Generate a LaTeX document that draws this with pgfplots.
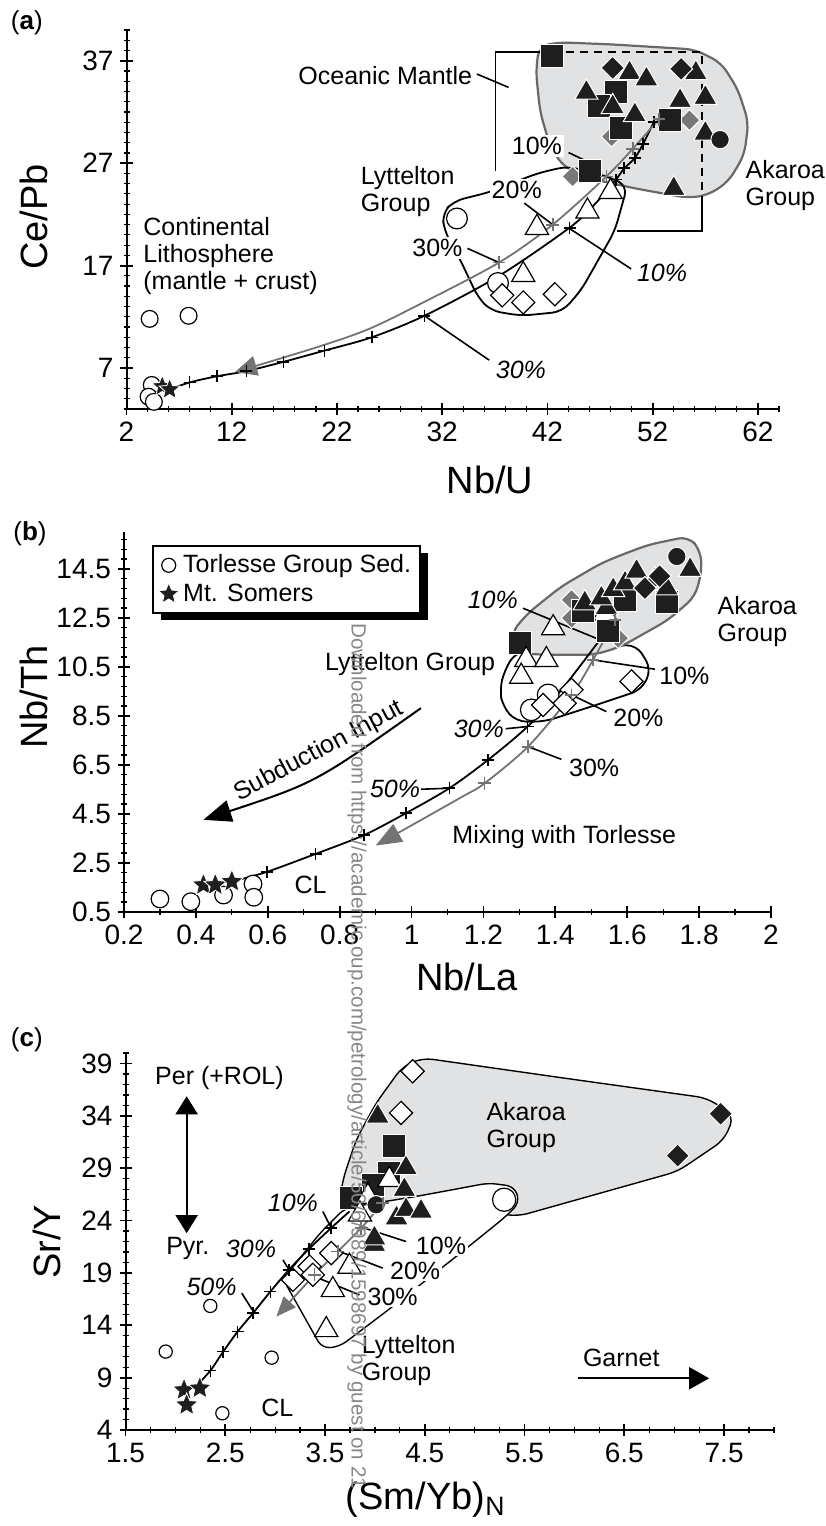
\documentclass[border=0pt]{standalone}
\usepackage{pgfplots}
\pgfplotsset{compat=1.18}
\usepackage{fontspec}
\setmainfont{Liberation Sans}
\usetikzlibrary{arrows.meta,shadows}

\definecolor{dk}{RGB}{30,30,30}
\definecolor{gm}{RGB}{120,120,120}
\definecolor{reg}{RGB}{225,226,228}
\definecolor{rline}{RGB}{105,105,105}
\definecolor{cg}{RGB}{115,115,115}
\definecolor{wm}{RGB}{135,135,135}

\pgfdeclareplotmark{fstar}{%
  \pgfpathmoveto{\pgfpointpolar{90}{\pgfplotmarksize}}%
  \pgfpathlineto{\pgfpointpolar{126}{0.45\pgfplotmarksize}}%
  \pgfpathlineto{\pgfpointpolar{162}{\pgfplotmarksize}}%
  \pgfpathlineto{\pgfpointpolar{198}{0.45\pgfplotmarksize}}%
  \pgfpathlineto{\pgfpointpolar{234}{\pgfplotmarksize}}%
  \pgfpathlineto{\pgfpointpolar{270}{0.45\pgfplotmarksize}}%
  \pgfpathlineto{\pgfpointpolar{306}{\pgfplotmarksize}}%
  \pgfpathlineto{\pgfpointpolar{342}{0.45\pgfplotmarksize}}%
  \pgfpathlineto{\pgfpointpolar{18}{\pgfplotmarksize}}%
  \pgfpathlineto{\pgfpointpolar{54}{0.45\pgfplotmarksize}}%
  \pgfpathclose
  \pgfusepathqfillstroke
}

\pgfplotsset{
  myax/.style={scale only axis, axis lines=left, axis line style={-,line width=1pt},
    tick align=center, major tick length=6pt, minor tick length=3pt,
    major tick style={line width=0.9pt,black}, minor tick style={line width=0.6pt,black},
    tick label style={font=\fontsize{14}{16}\selectfont},
    /pgf/number format/assume math mode=true,
    label style={font=\fontsize{19}{22}\selectfont}, clip=false},
  bsq/.style={only marks, mark=square*, mark size=5.75pt, mark options={fill=dk, draw=white, line width=0.5pt}},
  btri/.style={only marks, mark=triangle*, mark size=6.7pt, mark options={fill=dk, draw=white, line width=0.5pt}},
  bdia/.style={only marks, mark=square*, mark size=4.1pt, mark options={rotate=45, fill=dk, draw=white, line width=0.5pt}},
  gdia/.style={only marks, mark=square*, mark size=3.7pt, mark options={rotate=45, fill=gm, draw=white, line width=0.5pt}},
  bcirc/.style={only marks, mark=*, mark size=4.6pt, mark options={fill=dk, draw=white, line width=0.5pt}},
  wtri/.style={only marks, mark=triangle*, mark size=6.7pt, mark options={fill=white, draw=black, line width=0.6pt}},
  wdia/.style={only marks, mark=square*, mark size=4.1pt, mark options={rotate=45, fill=white, draw=black, line width=0.6pt}},
  wcirc/.style={only marks, mark=*, mark size=5pt, mark options={fill=white, draw=black, line width=0.6pt}},
  bstar/.style={only marks, mark=fstar, mark size=5.5pt, mark options={fill=dk, draw=white, line width=0.4pt}},
}
\tikzset{
  lb/.style={font=\fontsize{12.5}{13.5}\selectfont, inner sep=1pt, align=left},
  il/.style={font=\fontsize{12.5}{13.5}\selectfont\itshape, inner sep=1pt},
  ld/.style={line width=0.8pt},
}

\begin{document}
\begin{tikzpicture}
\useasboundingbox (0,0) rectangle (412.5pt,-763pt);

% ---------------- panel (a)
\begin{axis}[myax, at={(63.25pt,-204.5pt)}, anchor=south west, width=326.25pt, height=189.5pt,
  xmin=2, xmax=64, ymin=3, ymax=40,
  xtick={2,12,...,62}, ytick={7,17,27,37},
  minor xtick={4,6,...,64}, minor ytick={3,4,...,40},
  xlabel={Nb/U}, ylabel={Ce/Pb},
  xlabel style={at={(axis description cs:0.557,-0.187)},anchor=center},
  ylabel style={at={(axis description cs:-0.142,0.507)},anchor=center}]
\addplot[draw=rline, line width=1.1pt, fill=reg, rounded corners=5pt, line join=round] coordinates {(52,38.35) (56.0,38.1) (58.5,36.8) (60.1,34.2) (61.1,31.0) (60.7,27.8) (59.2,25.2) (57.3,23.9) (55.4,23.6) (50.5,24.5) (46,25.5) (43.6,26.6) (42.3,28.5) (41.3,32) (40.9,36) (41.2,38.4) (43,38.8) (48,38.6)} -- cycle;
\draw[line width=0.9pt] (axis cs:42.4,37.84) -- (axis cs:37.07,37.84) -- (axis cs:37.07,26.2);
\draw[line width=0.9pt, dash pattern=on 4pt off 3pt] (axis cs:42.4,37.84) -- (axis cs:56.7,37.84) -- (axis cs:56.7,23.6);
\draw[line width=0.9pt] (axis cs:56.7,23.6) -- (axis cs:56.7,20.4) -- (axis cs:48.6,20.4);
\addplot[black, line width=0.9pt, rounded corners=5pt, line join=round] coordinates {(38.8,25.1) (41.0,26.0) (43.9,26.7) (47.7,25.7) (49.6,24.8) (48.4,20.4) (45.2,14.6) (43.4,12.5) (39.5,12.1) (36.6,12.6) (35.4,13.9) (33.6,17.8) (32.2,20.4) (32.0,22.1) (33.1,23.3) (36.6,24.2)} -- cycle;
\addplot[gdia] coordinates {(55.5,31.2) (48.1,29.6) (44.4,25.7)};
\addplot[bsq] coordinates {(42.4,37.5) (48.5,33.9) (46.9,32.6) (49.0,30.4) (53.6,31.2) (46.0,26.2)};
\addplot[btri] coordinates {(49.8,35.8) (51.4,35.2) (45.7,33.9) (48.2,32.5) (50.3,31.7) (56.1,35.8) (54.6,33.1) (57.0,33.4) (57.0,29.9) (54.0,24.5)};
\addplot[bdia] coordinates {(48.2,36.3) (54.7,36.2)};
\addplot[bcirc] coordinates {(58.4,29.3)};
\addplot[wtri] coordinates {(48.0,24.2) (45.8,22.3) (41.0,20.7) (39.7,16.1)};
\addplot[wcirc, mark size=5.2pt] coordinates {(37.3,15.3) (33.4,21.6)};
\addplot[wdia] coordinates {(37.7,14.1) (39.7,13.4) (42.7,14.2)};
\addplot[wcirc, mark size=4.2pt] coordinates {(4.2,11.8) (7.9,12.1) (4.4,5.35) (4.1,4.2) (4.6,3.7)};
\addplot[bstar] coordinates {(5.4,5.2) (6.1,4.9)};
\addplot[black, line width=0.9pt, smooth] coordinates {(52.1,31.0) (51.1,28.9) (50.3,27.5) (49.3,26.5) (48.5,25.4) (46.5,23.0) (44.1,20.7) (37.4,16.0) (30.3,12.1) (25.3,10.0) (20.8,8.7) (16.9,7.6) (13.4,6.7) (10.6,6.2) (8.0,5.6) (6.1,4.9)};
\addplot[only marks, mark=+, mark size=3pt, black, line width=0.8pt] coordinates {(52.1,31.0) (51.1,28.9) (50.3,27.5) (49.3,26.5) (48.5,25.4) (44.1,20.7) (30.3,12.1) (25.3,10.0) (20.8,8.7) (16.9,7.6) (13.4,6.7) (10.6,6.2) (8.0,5.6)};
\addplot[cg, line width=0.9pt, smooth, -{Triangle[length=11pt,width=10pt]}] coordinates {(52.6,31.3) (50.1,28.4) (47.6,25.7) (42.5,21.0) (37.4,17.3) (30,13.3) (25,10.8) (20,9.0) (12.3,6.6)};
\addplot[only marks, mark=+, mark size=3.2pt, cg, line width=0.9pt] coordinates {(52.6,31.3) (50.1,28.4) (47.6,25.7) (42.5,21.0) (37.4,17.3)};
\node[lb, anchor=east] at (axis cs:35.07,35.56) {Oceanic Mantle};
\draw[ld] (axis cs:35.3,35.7) -- (axis cs:38.3,34.4);
\node[lb, anchor=west] at (axis cs:24.05,24.2) {Lyttelton\\Group};
\node[lb, anchor=west] at (axis cs:3.38,17.9) {Continental\\Lithosphere\\(mantle + crust)};
\node[lb, anchor=west] at (axis cs:60.6,24.8) {Akaroa\\Group};
\node[lb, fill=white] at (axis cs:41.0,28.67) {10\%};
\draw[ld] (axis cs:44.0,28.04) -- (axis cs:45.5,27.3);
\node[lb, fill=white] at (axis cs:39.08,24.4) {20\%};
\draw[ld] (axis cs:39.8,23.1) -- (axis cs:42.5,21.0);
\node[lb, fill=white] at (axis cs:31.54,18.69) {30\%};
\draw[ld] (axis cs:34.4,18.68) -- (axis cs:37.41,17.29);
\node[il] at (axis cs:52.89,16.25) {10\%};
\draw[ld] (axis cs:49.95,16.68) -- (axis cs:44.08,20.63);
\node[il] at (axis cs:39.48,6.8) {30\%};
\draw[ld] (axis cs:36.46,7.77) -- (axis cs:30.27,12.13);
\end{axis}

% ---------------- panel (b)
\begin{axis}[myax, at={(62pt,-455.85pt)}, anchor=south west, width=323.5pt, height=189.85pt,
  xmin=0.2, xmax=2, ymin=0.5, ymax=16,
  xtick={0.2,0.4,0.6,0.8,1,1.2,1.4,1.6,1.8,2},
  minor xtick={0.3,0.5,0.7,0.9,1.1,1.3,1.5,1.7,1.9},
  ytick={0.5,2.5,4.5,6.5,8.5,10.5,12.5,14.5},
  minor ytick={0.9,1.3,...,15.8},
  xlabel={Nb/La}, ylabel={Nb/Th},
  xlabel style={at={(axis description cs:0.53,-0.172)},anchor=center},
  ylabel style={at={(axis description cs:-0.139,0.565)},anchor=center},
  legend cell align=left,
  legend style={at={(0.044,0.966)}, anchor=north west, draw=black, line width=0.8pt, fill=white,
    font=\fontsize{12.5}{14}\selectfont, inner xsep=2.5pt, inner ysep=2.5pt, row sep=0pt,
    drop shadow={shadow xshift=4pt, shadow yshift=-3.5pt, fill=black, opacity=1}}]
\addlegendimage{only marks, mark=o, mark size=3.5pt, black, line width=0.6pt}
\addlegendentry{Torlesse Group Sed.}
\addlegendimage{bstar, mark size=5.5pt}
\addlegendentry{Mt. Somers}
\addplot[black, line width=0.9pt, rounded corners=5pt, line join=round] coordinates {(1.37,11.2) (1.29,11.1) (1.259,10.37) (1.245,9.56) (1.254,8.87) (1.291,8.26) (1.370,8.26) (1.528,9.01) (1.640,9.56) (1.667,10.4) (1.626,11.39) (1.45,11.3)} -- cycle;
\addplot[draw=rline, line width=1.1pt, fill=reg, rounded corners=5pt, line join=round] coordinates {(1.59,15.1) (1.659,15.48) (1.770,15.82) (1.803,15.28) (1.808,14.46) (1.789,13.37) (1.715,12.42) (1.584,11.33) (1.510,10.99) (1.370,10.99) (1.296,11.05) (1.277,11.88) (1.324,12.69) (1.417,13.78) (1.528,14.73)} -- cycle;
\addplot[gdia] coordinates {(1.445,13.23) (1.445,12.49) (1.575,11.67)};
\addplot[wtri] coordinates {(1.394,12.08) (1.538,12.69)};
\addplot[bsq] coordinates {(1.301,11.46) (1.477,12.76) (1.547,11.94) (1.594,13.23) (1.710,13.16)};
\addplot[btri] coordinates {(1.482,13.1) (1.542,12.9) (1.528,13.3) (1.561,13.64) (1.594,13.91) (1.626,14.39) (1.677,14.05) (1.710,13.71) (1.775,14.46)};
\addplot[bdia] coordinates {(1.649,13.71) (1.69,14.2)};
\addplot[bcirc] coordinates {(1.738,15.0)};
\addplot[wtri] coordinates {(1.319,10.78) (1.375,10.78) (1.305,10.1)};
\addplot[wcirc, mark size=5.4pt] coordinates {(1.333,8.74) (1.380,9.35)};
\addplot[wdia] coordinates {(1.445,9.56) (1.612,9.9) (1.426,9.01) (1.366,8.94)};
\addplot[wcirc, mark size=4.4pt] coordinates {(0.30,1.02) (0.386,0.91) (0.477,1.18) (0.559,1.63) (0.561,1.09)};
\addplot[bstar, mark size=6pt] coordinates {(0.421,1.59) (0.454,1.59) (0.50,1.73)};
\addplot[black, line width=0.9pt, smooth] coordinates {(1.524,11.6) (1.417,9.56) (1.323,8.06) (1.213,6.7) (1.105,5.54) (0.984,4.52) (0.868,3.63) (0.733,2.86) (0.598,2.13) (0.50,1.73)};
\addplot[only marks, mark=+, mark size=3pt, black, line width=0.8pt] coordinates {(1.323,8.06) (1.213,6.7) (1.105,5.54) (0.984,4.52) (0.868,3.63) (0.733,2.86) (0.598,2.13)};
\addplot[cg, line width=0.9pt, smooth, -{Triangle[length=13pt,width=10pt]}] coordinates {(1.566,12.42) (1.505,10.78) (1.445,9.35) (1.324,7.24) (1.203,5.74) (1.138,5.17) (0.90,3.2)};
\addplot[only marks, mark=+, mark size=3.2pt, cg, line width=0.9pt] coordinates {(1.566,12.42) (1.505,10.78) (1.445,9.35) (1.324,7.24) (1.203,5.74)};
\draw[line width=1pt, -{Triangle[length=14pt,width=11pt]}] (axis cs:1.026,8.81) .. controls (axis cs:0.733,5.77) .. (axis cs:0.421,4.25);
\node[lb, rotate=28] at (axis cs:0.742,7.04) {Subduction Input};
\node[il] at (axis cs:1.226,13.23) {10\%};
\draw[ld] (axis cs:1.31,12.89) -- (axis cs:1.524,11.6);
\node[lb] at (axis cs:1.759,10.14) {10\%};
\draw[ld] (axis cs:1.677,10.4) -- (axis cs:1.505,10.78);
\node[lb] at (axis cs:1.631,8.4) {20\%};
\draw[ld] (axis cs:1.542,8.67) -- (axis cs:1.445,9.35);
\node[lb] at (axis cs:1.508,6.39) {30\%};
\draw[ld] (axis cs:1.417,6.72) -- (axis cs:1.324,7.24);
\node[il] at (axis cs:1.187,7.96) {30\%};
\draw[ld] (axis cs:1.262,7.97) -- (axis cs:1.324,8.06);
\node[il] at (axis cs:0.954,5.5) {50\%};
\draw[ld] (axis cs:1.026,5.5) -- (axis cs:1.105,5.54);
\node[lb] at (axis cs:0.996,10.62) {Lyttelton Group};
\node[lb, anchor=west] at (axis cs:1.845,12.35) {Akaroa\\Group};
\node[lb] at (axis cs:1.425,3.53) {Mixing with Torlesse};
\node[lb] at (axis cs:0.719,1.59) {CL};
\end{axis}

% ---------------- panel (c)
\begin{axis}[myax, at={(62.75pt,-715pt)}, anchor=south west, width=324.25pt, height=188.5pt,
  xmin=1.5, xmax=8, ymin=4, ymax=40,
  xtick={1.5,2.5,...,7.5}, minor xtick={1.75,2,...,8},
  ytick={4,9,...,39}, minor ytick={4,5,...,40},
  xlabel={(Sm/Yb)\textsubscript{N}}, ylabel={Sr/Y},
  xlabel style={at={(axis description cs:0.463,-0.185)},anchor=center},
  ylabel style={at={(axis description cs:-0.121,0.499)},anchor=center}]
\addplot[draw=black, line width=0.7pt, fill=reg, rounded corners=5pt, line join=round] coordinates {(5.9,37.6) (7.33,35.7) (7.60,34.0) (7.50,31.7) (7.035,28.7) (5.43,24.4) (4.4,25.9) (3.645,25.67) (3.678,27.9) (3.812,31.72) (4.012,35.23) (4.278,38.73) (4.478,39.53)} -- cycle;
\addplot[draw=black, line width=0.7pt, fill=white, rounded corners=4pt, line join=round] coordinates {(4.78,26.95) (5.14,27.59) (5.40,27.25) (5.45,25.7) (5.30,24.3) (4.878,21.05) (4.112,15.31) (3.645,11.96) (3.47,11.8) (3.08,18.4) (3.45,22.8) (3.70,25.2) (4.41,26.3)} -- cycle;
\addplot[wdia] coordinates {(4.378,38.26) (4.262,34.28) (3.562,20.89) (3.345,19.61) (3.178,18.34) (3.378,18.82)};
\addplot[wcirc, mark size=5.8pt] coordinates {(5.295,25.99)};
\addplot[bsq] coordinates {(4.195,31.08) (4.145,28.54) (3.978,27.42) (3.762,26.15)};
\addplot[wtri] coordinates {(4.145,27.9) (3.578,17.38) (3.512,13.56) (3.745,19.61) (3.93,26.3) (3.85,24.6)};
\addplot[btri] coordinates {(4.028,33.95) (4.312,29.02) (4.295,26.94) (4.217,24.24) (4.312,25.03) (4.462,24.87) (3.995,21.69) (3.995,22.33)};
\addplot[bcirc] coordinates {(4.012,25.51)};
\addplot[bdia] coordinates {(7.465,34.2) (7.035,30.2)};
\addplot[wcirc, mark size=3.3pt] coordinates {(2.35,15.85) (1.903,11.49) (2.965,10.91) (2.471,5.6)};
\addplot[bstar, mark size=6pt] coordinates {(2.087,7.82) (2.245,7.99) (2.113,6.39)};
\addplot[black, line width=0.9pt, smooth] coordinates {(3.745,24.87) (3.562,23.3) (3.338,21.28) (3.138,19.3) (2.952,17.22) (2.778,15.16) (2.624,13.4) (2.48,11.49) (2.35,9.67) (2.19,7.99)};
\addplot[only marks, mark=+, mark size=3pt, black, line width=0.8pt] coordinates {(3.562,23.3) (3.338,21.28) (3.138,19.3) (2.952,17.22) (2.778,15.16) (2.624,13.4) (2.48,11.49) (2.35,9.67)};
\addplot[cg, line width=0.9pt, smooth, -{Triangle[length=10pt,width=8pt]}] coordinates {(4.078,25.67) (3.862,23.28) (3.628,21.05) (3.395,18.82) (3.012,14.83)};
\addplot[only marks, mark=+, mark size=3.2pt, cg, line width=0.9pt] coordinates {(4.078,25.67) (3.862,23.28) (3.628,21.05) (3.395,18.82)};
\node[lb] at (axis cs:2.442,37.62) {Per (+ROL)};
\draw[line width=1pt, {Triangle[length=9pt,width=11pt]}-{Triangle[length=9pt,width=11pt]}] (axis cs:2.113,35.87) -- (axis cs:2.113,22.8);
\node[lb] at (axis cs:2.125,21.29) {Pyr.};
\node[il] at (axis cs:3.178,25.67) {10\%};
\draw[ld] (axis cs:3.478,24.87) -- (axis cs:3.562,23.28);
\node[il] at (axis cs:2.758,21.29) {30\%};
\draw[ld] (axis cs:3.078,20.25) -- (axis cs:3.138,19.3);
\node[il] at (axis cs:2.363,17.7) {50\%};
\draw[ld] (axis cs:2.665,17.07) -- (axis cs:2.771,15.47);
\node[lb, fill=white] at (axis cs:4.662,21.61) {10\%};
\draw[ld] (axis cs:4.312,22.0) -- (axis cs:3.845,23.44);
\node[lb, fill=white] at (axis cs:4.403,19.22) {20\%};
\draw[ld] (axis cs:4.078,19.46) -- (axis cs:3.628,21.11);
\node[lb, fill=white] at (axis cs:4.178,16.74) {30\%};
\draw[ld] (axis cs:3.845,16.9) -- (axis cs:3.395,18.66);
\node[lb, anchor=west] at (axis cs:5.095,32.92) {Akaroa\\Group};
\node[lb, anchor=west] at (axis cs:3.845,10.6) {Lyttelton\\Group};
\node[lb] at (axis cs:3.021,6.15) {CL};
\node[lb] at (axis cs:6.469,10.85) {Garnet};
\draw[line width=1pt, -{Triangle[length=10pt,width=11pt]}] (axis cs:6.034,8.94) -- (axis cs:7.35,8.94);
\end{axis}

\node[anchor=west, font=\fontsize{13}{15}\selectfont, inner sep=0pt] at (5.25pt,-11.5pt) {(\textbf{a})};
\node[anchor=west, font=\fontsize{13}{15}\selectfont, inner sep=0pt] at (6.5pt,-267pt) {(\textbf{b})};
\node[anchor=west, font=\fontsize{13}{15}\selectfont, inner sep=0pt] at (5.25pt,-520pt) {(\textbf{c})};
\node[rotate=-90, anchor=west, text=wm, font=\fontsize{10.3}{12}\selectfont, inner sep=0pt] at (178.5pt,-311.5pt) {Downloaded from https://academic.oup.com/petrology/article/50/6/989/1598697 by guest on 21};
\end{tikzpicture}
\end{document}
